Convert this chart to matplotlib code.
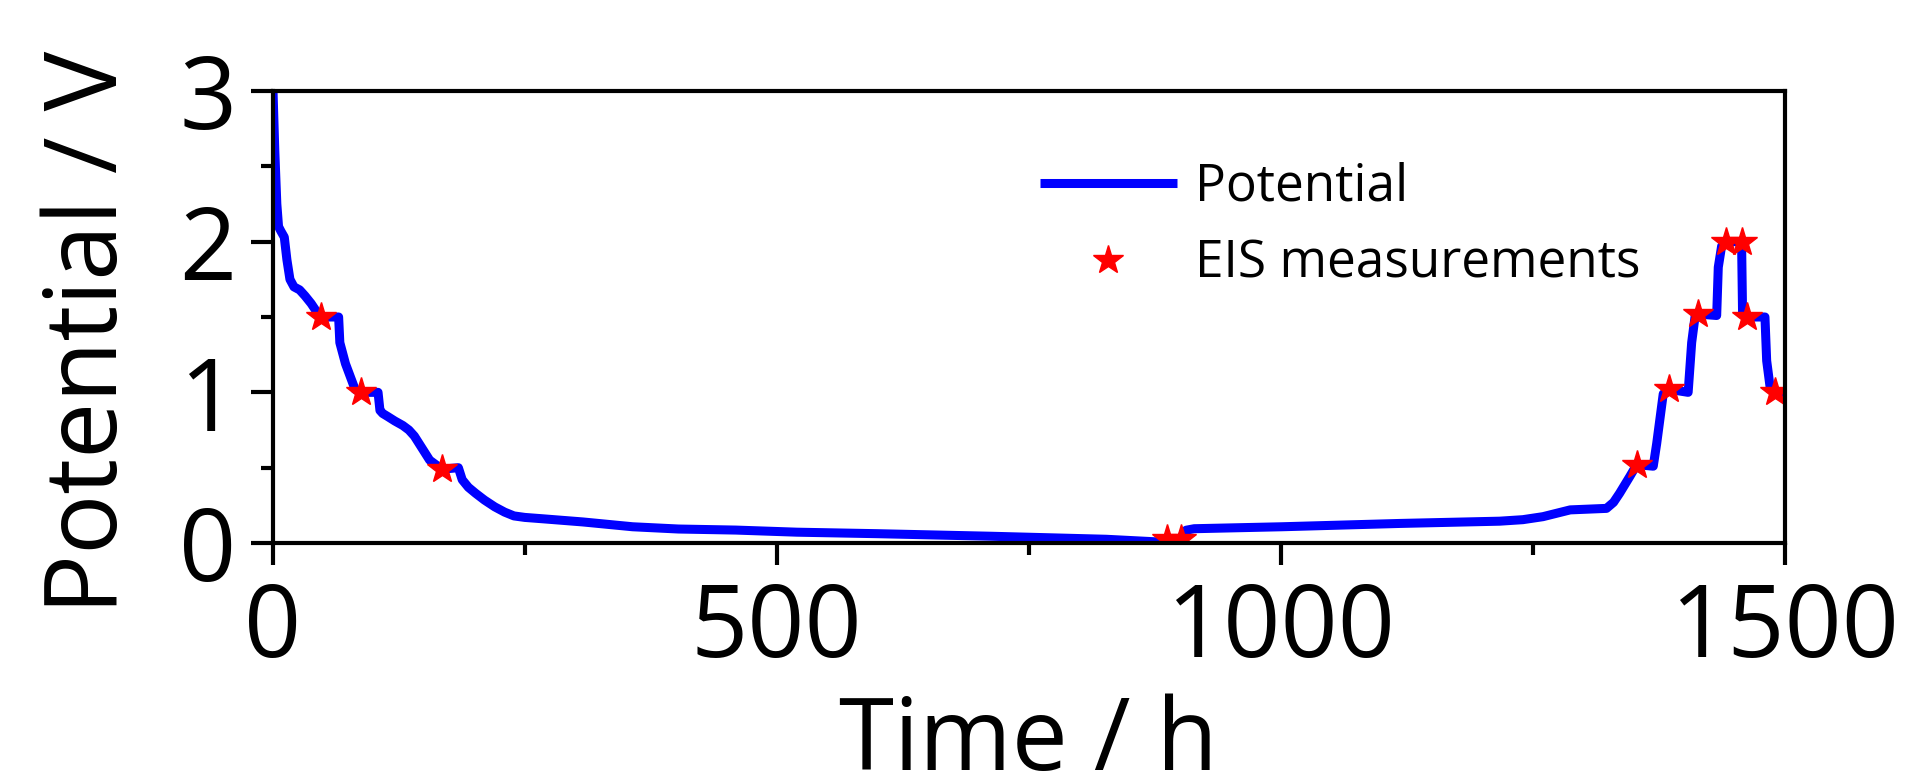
import matplotlib
matplotlib.use("Agg")
import matplotlib.pyplot as plt
from matplotlib.ticker import MultipleLocator

# potential trace (time in h, potential in V)
time_h = [0, 2, 4, 5.7, 8, 11.4, 14, 17, 21, 26.6, 32, 38, 42, 47.4, 65.3,
          66.5, 72.1, 81.6, 87.3, 104.4, 106.3, 109, 113.9, 121, 129, 135,
          140.4, 148, 155.6, 167.8, 184.1, 187.9, 194, 201.2, 210, 220.2,
          230, 239.2, 250, 269.5, 307.5, 356.9, 402.4, 459.3, 520, 600,
          712.8, 826.7, 876, 900, 903, 906, 914, 1001, 1118, 1217, 1240,
          1260, 1275, 1287, 1323, 1330, 1336, 1346, 1353, 1369.4, 1372.8,
          1379.3, 1385.3, 1404, 1407.5, 1410.8, 1413.4, 1432.3, 1433.9,
          1437.2, 1441.2, 1457, 1458, 1462.6, 1480.2, 1481.9, 1485.2, 1490.1,
          1500]
potential = [3.05, 2.6, 2.25, 2.10, 2.07, 2.03, 1.88, 1.75, 1.70, 1.68, 1.64,
             1.59, 1.55, 1.50, 1.50, 1.33, 1.19, 1.02, 1.00, 1.00, 0.88, 0.86,
             0.84, 0.81, 0.78, 0.75, 0.71, 0.63, 0.55, 0.49, 0.50, 0.42, 0.37,
             0.33, 0.285, 0.24, 0.205, 0.18, 0.17, 0.16, 0.14, 0.108, 0.093,
             0.086, 0.072, 0.062, 0.045, 0.025, 0.008, 0.008, 0.06, 0.085,
             0.095, 0.108, 0.13, 0.145, 0.155, 0.175, 0.2, 0.22, 0.23, 0.27,
             0.33, 0.44, 0.52, 0.51, 0.66, 0.99, 1.02, 1.00, 1.33, 1.50, 1.52,
             1.51, 1.83, 1.97, 2.00, 2.00, 1.52, 1.50, 1.50, 1.21, 1.04, 1.00,
             1.00]

# EIS measurement points
eis_time = [47.4, 87.3, 167.8, 886.6, 900.7, 1353, 1385.3, 1413.4, 1441.2,
            1457, 1462.6, 1490.1]
eis_potential = [1.50, 1.00, 0.49, 0.03, 0.03, 0.52, 1.02, 1.52, 2.00, 2.00,
                 1.50, 1.00]

plt.rcParams["font.family"] = ["Open Sans", "DejaVu Sans"]

fig = plt.figure(figsize=(19.09, 7.73), dpi=100)
ax = fig.add_axes([0.1429, 0.2975, 0.7921, 0.5848])

ax.plot(time_h, potential, color="#0000ff", lw=6.5, label="Potential",
        solid_joinstyle="round", solid_capstyle="butt")
ax.plot(eis_time, eis_potential, ls="none", marker="*", ms=22,
        color="#ff0000", mec="#ff0000", label="EIS measurements")

ax.set_xlim(0, 1500)
ax.set_ylim(0, 3)
ax.xaxis.set_major_locator(MultipleLocator(500))
ax.xaxis.set_minor_locator(MultipleLocator(250))
ax.yaxis.set_major_locator(MultipleLocator(1))
ax.yaxis.set_minor_locator(MultipleLocator(0.5))

for s in ax.spines.values():
    s.set_linewidth(3)
ax.tick_params(which="major", direction="out", length=16, width=3,
               labelsize=72, color="black")
ax.tick_params(which="minor", direction="out", length=8.3, width=3)
ax.tick_params(axis="x", which="major", pad=11)
ax.tick_params(axis="y", which="major", pad=10)

ax.set_xlabel("Time / h", fontsize=72)
ax.set_ylabel("Potential / V", fontsize=72)
ax.xaxis.set_label_coords(0.5, -0.332)
ax.yaxis.set_label_coords(-0.087, 0.465)

ax.legend(loc="upper left", bbox_to_anchor=(0.5073, 0.843), frameon=False,
          fontsize=37, handlelength=2.67, handletextpad=0.35,
          labelspacing=0.5, borderpad=0, borderaxespad=0, numpoints=1)

fig.savefig("out.png", dpi=100)
